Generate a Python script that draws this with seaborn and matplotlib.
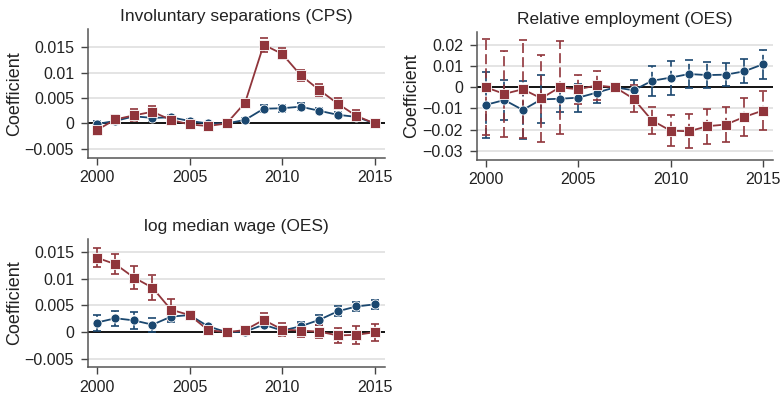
import numpy as np
import pandas as pd
import matplotlib
matplotlib.use("Agg")
import matplotlib.pyplot as plt
import seaborn as sns

years = list(range(2000, 2016))

# Involuntary separations (CPS)
sep_blue = [-0.0001, 0.0005, 0.0014, 0.0011, 0.0012, 0.0005, 0.0000, 0.0000,
            0.0007, 0.0029, 0.0030, 0.0033, 0.0025, 0.0017, 0.0013, 0.0000]
sep_blue_ci = [0.0005, 0.0006, 0.0006, 0.0006, 0.0005, 0.0004, 0.0003, 0.0000,
               0.0004, 0.0007, 0.0007, 0.0007, 0.0005, 0.0005, 0.0005, 0.0003]
sep_red = [-0.0013, 0.0008, 0.0016, 0.0023, 0.0007, -0.0002, -0.0005, 0.0000,
           0.0041, 0.0155, 0.0137, 0.0095, 0.0066, 0.0039, 0.0015, 0.0000]
sep_red_ci = [0.0009, 0.0008, 0.0012, 0.0011, 0.0005, 0.0005, 0.0004, 0.0000,
              0.0006, 0.0014, 0.0011, 0.0011, 0.0011, 0.0011, 0.0011, 0.0004]

# Relative employment (OES)
emp_blue = [-0.0083, -0.0060, -0.0107, -0.0057, -0.0054, -0.0049, -0.0025, 0.0000,
            -0.0014, 0.0031, 0.0046, 0.0063, 0.0058, 0.0060, 0.0076, 0.0109]
emp_blue_ci = [0.0155, 0.0093, 0.0139, 0.0114, 0.0065, 0.0067, 0.0050, 0.0000,
               0.0050, 0.0072, 0.0080, 0.0066, 0.0063, 0.0056, 0.0057, 0.0069]
emp_red = [0.0000, -0.0031, -0.0009, -0.0052, 0.0000, -0.0009, 0.0009, 0.0000,
           -0.0054, -0.0157, -0.0205, -0.0208, -0.0184, -0.0176, -0.0140, -0.0110]
emp_red_ci = [0.0228, 0.0203, 0.0233, 0.0205, 0.0220, 0.0068, 0.0067, 0.0000,
              0.0063, 0.0065, 0.0073, 0.0080, 0.0083, 0.0085, 0.0090, 0.0092]

# log median wage (OES)
wage_blue = [0.0018, 0.0026, 0.0022, 0.0014, 0.0029, 0.0032, 0.0011, 0.0000,
             0.0001, 0.0014, 0.0003, 0.0011, 0.0023, 0.0039, 0.0048, 0.0052]
wage_blue_ci = [0.0015, 0.0014, 0.0016, 0.0013, 0.0010, 0.0008, 0.0005, 0.0000,
                0.0003, 0.0005, 0.0005, 0.0008, 0.0010, 0.0009, 0.0009, 0.0009]
wage_red = [0.0139, 0.0127, 0.0102, 0.0083, 0.0042, 0.0032, 0.0004, 0.0000,
            0.0004, 0.0023, 0.0005, 0.0003, 0.0001, -0.0006, -0.0005, 0.0000]
wage_red_ci = [0.0018, 0.0019, 0.0022, 0.0023, 0.0020, 0.0008, 0.0006, 0.0000,
               0.0004, 0.0012, 0.0013, 0.0012, 0.0012, 0.0014, 0.0017, 0.0016]

titles = ["Involuntary separations (CPS)", "Relative employment (OES)",
          "log median wage (OES)"]
ytick_vals = [[-0.005, 0, 0.005, 0.01, 0.015],
              [-0.03, -0.02, -0.01, 0, 0.01, 0.02],
              [-0.005, 0, 0.005, 0.01, 0.015]]
ytick_labels = [["\u22120.005", "0", "0.005", "0.01", "0.015"],
                ["\u22120.03", "\u22120.02", "\u22120.01", "0", "0.01", "0.02"],
                ["\u22120.005", "0", "0.005", "0.01", "0.015"]]
xtick_vals = [2000, 2005, 2010, 2015]

BLUE = "#1a476f"
RED = "#90353b"

sns.set_style("white")
plt.rcParams["font.family"] = ["Liberation Sans", "DejaVu Sans"]

W, H = 783, 393
fig = plt.figure(figsize=(W / 100, H / 100), dpi=100)


def px_axes(left, top, right, bottom):
    return fig.add_axes([left / W, 1 - bottom / H, (right - left) / W, (bottom - top) / H])


panels = [
    (px_axes(88, 29, 385, 158), sep_blue, sep_blue_ci, sep_red, sep_red_ci,
     (-0.0068, 0.0186), -0.219),
    (px_axes(477, 32, 773, 160), emp_blue, emp_blue_ci, emp_red, emp_red_ci,
     (-0.0344, 0.0262), -0.193),
    (px_axes(88, 239, 385, 367), wage_blue, wage_blue_ci, wage_red, wage_red_ci,
     (-0.0065, 0.0174), -0.219),
]

for i, (ax, b, bci, r, rci, ylim, ylab_x) in enumerate(panels):
    df = pd.DataFrame({
        "year": years * 2,
        "coef": b + r,
        "group": ["blue"] * len(years) + ["red"] * len(years),
    })
    for vals in ytick_vals[i]:
        if vals != 0:
            ax.axhline(vals, color="#dcdcdc", lw=1.1, zorder=0)
    ax.axhline(0, color="black", lw=1.3, zorder=1)

    for y, ci, col in ((b, bci, BLUE), (r, rci, RED)):
        eb = ax.errorbar(years, y, yerr=ci, fmt="none", ecolor=col, elinewidth=1.2,
                         capsize=3.2, capthick=1.2, zorder=2)
        eb[2][0].set_linestyle((0, (6, 2.5)))

    sns.lineplot(data=df, x="year", y="coef", hue="group", style="group",
                 palette={"blue": BLUE, "red": RED},
                 markers={"blue": "o", "red": "s"}, dashes=False,
                 markersize=6.5, markeredgewidth=0.6, linewidth=1.3,
                 legend=False, ax=ax, zorder=3)

    ax.set_xlim(1999.52, 2015.55)
    ax.set_ylim(*ylim)
    ax.set_xticks(xtick_vals)
    ax.set_xticklabels([str(v) for v in xtick_vals])
    ax.set_yticks(ytick_vals[i])
    ax.set_yticklabels(ytick_labels[i])
    ax.tick_params(axis="both", direction="out", length=5, width=1, color="#444444",
                   labelsize=11.5, labelcolor="#222222", left=True, bottom=True)
    ax.tick_params(axis="y", pad=5)
    ax.tick_params(axis="x", pad=4)
    ax.set_xlabel("")
    ax.set_ylabel("Coefficient", fontsize=13, color="#222222")
    ax.yaxis.set_label_coords(ylab_x, 0.5)
    ax.set_title(titles[i], fontsize=12.5, color="#222222", pad=6)
    for side in ("top", "right"):
        ax.spines[side].set_visible(False)
    for side in ("left", "bottom"):
        ax.spines[side].set_color("#555555")
        ax.spines[side].set_linewidth(1.1)

fig.savefig("out.png", dpi=100, facecolor="white")
